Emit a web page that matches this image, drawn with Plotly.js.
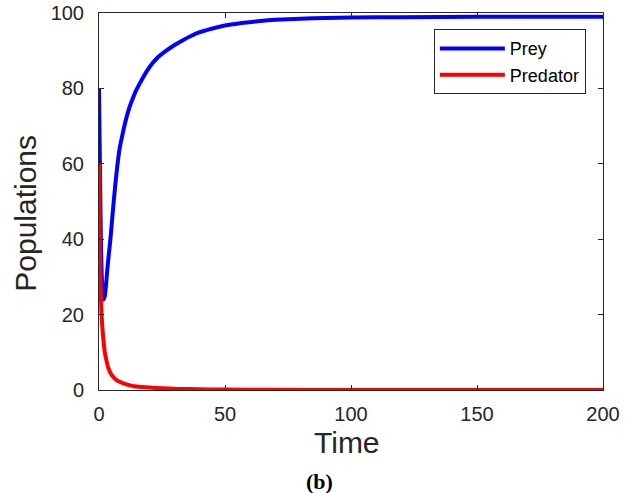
<!DOCTYPE html>
<html>
<head>
<meta charset="utf-8">
<script src="https://cdn.plot.ly/plotly-3.0.1.min.js"></script>
<style>html,body{margin:0;padding:0;background:#fff;}#chart{width:641px;height:493px;}</style>
</head>
<body>
<div id="chart"></div>
<script>
// Prey population over time
const preyTime = [0, 0.25, 0.5, 0.75, 1, 1.3, 1.6, 1.9, 2.3, 2.8, 3.3, 3.9, 4.6, 5.3, 6.4, 7.2, 8.1, 9.4, 10.8, 12, 13.4, 14.7, 16.1, 18, 20, 23, 26.7, 30, 33.3, 36.5, 40, 45, 50, 56, 63, 70, 80, 90, 100, 120, 150, 200];
const preyValues = [80, 66, 52, 40, 32, 27, 24.5, 24, 25, 28, 32, 36, 40.5, 46, 54, 59, 63.7, 68, 72, 74.8, 77.3, 79.4, 81.2, 83.5, 85.6, 88, 90, 91.5, 92.8, 93.9, 94.9, 95.9, 96.7, 97.3, 97.8, 98.2, 98.5, 98.7, 98.8, 98.9, 99, 99];
// Predator population over time
const predTime = [0, 0.1, 0.2, 0.35, 0.5, 0.7, 0.9, 1.1, 1.4, 1.8, 2.3, 2.9, 3.5, 4.2, 5, 6, 7, 8.5, 10, 12, 14, 17, 20, 25, 30, 40, 50, 70, 100, 150, 200];
const predValues = [60, 52, 45, 37, 31, 26, 22, 19, 16, 13, 10, 8, 6.3, 5, 4, 3.2, 2.6, 2.1, 1.7, 1.3, 1.0, 0.8, 0.65, 0.45, 0.3, 0.18, 0.1, 0.05, 0.02, 0.01, 0];

const xTicks = [0, 50, 100, 150, 200];
const yTicks = [0, 20, 40, 60, 80, 100];

const traces = [
  {x: preyTime, y: preyValues, name: 'Prey', type: 'scatter', mode: 'lines',
   line: {color: '#0000ff', width: 4, shape: 'spline', smoothing: 0.5}},
  {x: predTime, y: predValues, name: 'Predator', type: 'scatter', mode: 'lines',
   line: {color: '#ff0000', width: 4, shape: 'spline', smoothing: 0.5}}
];

const sans = 'Liberation Sans, Arial, Helvetica, sans-serif';
const axisFont = {family: sans, size: 20, color: '#262626'};

const layout = {
  width: 641, height: 493,
  margin: {l: 99, r: 38, t: 13, b: 103},
  paper_bgcolor: '#ffffff', plot_bgcolor: '#ffffff',
  showlegend: true,
  xaxis: {
    range: [0, 200], tickvals: xTicks, ticktext: xTicks.map(String),
    ticks: 'inside', ticklen: 5, tickcolor: '#262626', tickwidth: 1,
    showline: true, linecolor: '#262626', linewidth: 1, mirror: 'ticks',
    showgrid: false, zeroline: false, tickfont: axisFont, ticklabelstandoff: 6
  },
  yaxis: {
    range: [0, 100], tickvals: yTicks, ticktext: yTicks.map(String),
    ticks: 'inside', ticklen: 5, tickcolor: '#262626', tickwidth: 1,
    showline: true, linecolor: '#262626', linewidth: 1, mirror: 'ticks',
    showgrid: false, zeroline: false, tickfont: axisFont, ticklabelstandoff: 10
  },
  legend: {
    x: 0.966, y: 0.957, xanchor: 'right', yanchor: 'top',
    bgcolor: '#ffffff', bordercolor: '#262626', borderwidth: 1,
    font: {family: sans, size: 18, color: '#000000'},
    itemwidth: 65
  },
  annotations: [
    {text: 'Time', xref: 'paper', yref: 'paper', x: 0.492, y: -0.14,
     xanchor: 'center', yanchor: 'middle', showarrow: false,
     font: {family: sans, size: 30, color: '#262626'}},
    {text: 'Populations', xref: 'paper', yref: 'paper', x: -0.145, y: 0.47,
     xanchor: 'center', yanchor: 'middle', showarrow: false, textangle: -90,
     font: {family: sans, size: 30, color: '#262626'}},
    {text: '<b>(b)</b>', xref: 'paper', yref: 'paper', x: 0.438, y: -0.243,
     xanchor: 'center', yanchor: 'middle', showarrow: false,
     font: {family: 'Liberation Serif, DejaVu Serif, serif', size: 22, color: '#000000'}}
  ]
};

Plotly.newPlot('chart', traces, layout, {displayModeBar: false, staticPlot: true});
</script>
</body>
</html>
